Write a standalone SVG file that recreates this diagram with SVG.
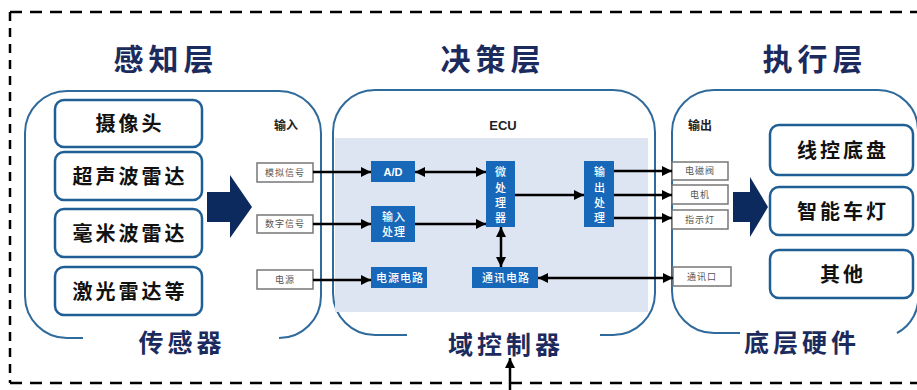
<svg xmlns="http://www.w3.org/2000/svg" width="917" height="390" viewBox="0 0 917 390">
  <style>
    .cjk { font-family: "Noto Sans CJK SC", "Noto Sans", sans-serif; }
    .title { font-size: 30px; font-weight: 700; fill: #1c2b5e; letter-spacing: 5px; text-anchor: middle; }
    .sub { font-size: 25px; font-weight: 600; fill: #1c2b5e; letter-spacing: 4px; text-anchor: middle; }
    .panel { fill: none; stroke: #2f6a9c; stroke-width: 2; }
    .card { fill: #fff; stroke: #1f5f95; stroke-width: 2.5; }
    .cardtxt { font-size: 20px; font-weight: 700; fill: #111; letter-spacing: 3px; text-anchor: middle; }
    .port { fill: #fff; stroke: #777; stroke-width: 1.5; }
    .porttxt { font-size: 9px; fill: #555; letter-spacing: 1px; text-anchor: middle; }
    .head { font-size: 12px; font-weight: 700; fill: #222; text-anchor: middle; }
    .blk { fill: #1768b9; }
    .blktxt { font-size: 11px; font-weight: 500; fill: #fff; letter-spacing: 1px; text-anchor: middle; }
    .wire { fill: none; stroke: #000; stroke-width: 2.5; }
    .frame { fill: none; stroke: #000; stroke-width: 2.5; }
    .big { fill: #0d2a5e; }
  </style>
  <defs>
    <marker id="ah" viewBox="0 0 10 10" refX="10" refY="5" markerWidth="10" markerHeight="10" markerUnits="userSpaceOnUse" orient="auto-start-reverse">
      <path d="M0,0 L10,5 L0,10 z" fill="#000"/>
    </marker>
  </defs>

  <!-- outer dashed frame -->
  <g id="frame">
    <line class="frame" x1="10" y1="12" x2="917" y2="12" stroke-dasharray="12 8"/>
    <line class="frame" x1="10" y1="383" x2="917" y2="383" stroke-dasharray="12 8"/>
    <line class="frame" x1="10" y1="12" x2="10" y2="383" stroke-dasharray="9 7"/>
  </g>

  <!-- layer titles -->
  <g id="titles" class="cjk">
    <text class="title" x="166" y="70">感知层</text>
    <text class="title" x="493" y="70">决策层</text>
    <text class="title" x="815" y="70">执行层</text>
  </g>

  <!-- sensor panel -->
  <g id="sensors">
    <path class="panel" d="M83 338 H67 A42 42 0 0 1 25 296 V133 A42 42 0 0 1 67 91 H279 A42 42 0 0 1 321 133 V296 A42 42 0 0 1 279 338"/>
    <text class="sub cjk" x="182" y="352">传感器</text>
    <g id="camera">
      <rect class="card" x="55" y="100" width="147" height="47" rx="9"/>
      <text class="cardtxt cjk" x="130" y="131">摄像头</text>
    </g>
    <g id="ultrasonic">
      <rect class="card" x="55" y="152" width="147" height="48" rx="9"/>
      <text class="cardtxt cjk" x="130" y="184">超声波雷达</text>
    </g>
    <g id="mmwave">
      <rect class="card" x="55" y="209" width="147" height="48" rx="9"/>
      <text class="cardtxt cjk" x="130" y="241">毫米波雷达</text>
    </g>
    <g id="lidar">
      <rect class="card" x="55" y="267" width="147" height="48" rx="9"/>
      <text class="cardtxt cjk" x="130" y="299">激光雷达等</text>
    </g>
    <path id="arrow-in" class="big" d="M207 192 H230 V175 L252 207 L230 238 V222 H207 z"/>
    <text class="head cjk" x="286" y="130">输入</text>
    <g id="analog">
      <rect class="port" x="257" y="163" width="56" height="19"/>
      <text class="porttxt cjk" x="285" y="176">模拟信号</text>
    </g>
    <g id="digital">
      <rect class="port" x="257" y="215" width="56" height="18"/>
      <text class="porttxt cjk" x="285" y="227">数字信号</text>
    </g>
    <g id="power">
      <rect class="port" x="257" y="270" width="56" height="19"/>
      <text class="porttxt cjk" x="285" y="283">电源</text>
    </g>
  </g>

  <!-- domain controller panel -->
  <g id="controller">
    <path class="panel" d="M407 335 H375 A42 42 0 0 1 333 293 V132 A42 42 0 0 1 375 90 H613 A42 42 0 0 1 655 132 V293 A42 42 0 0 1 613 335 H600"/>
    <rect x="335" y="138" width="313" height="174" fill="#dde4f2"/>
    <text x="503" y="130" font-family="Liberation Sans, Arial, sans-serif" font-size="13" font-weight="700" fill="#222" text-anchor="middle">ECU</text>
    <text class="sub cjk" x="506" y="354">域控制器</text>
    <g id="ad">
      <rect class="blk" x="371" y="161" width="44" height="21"/>
      <text x="393" y="176" font-family="Liberation Sans, Arial, sans-serif" font-size="11" font-weight="700" fill="#fff" text-anchor="middle">A/D</text>
    </g>
    <g id="inproc">
      <rect class="blk" x="371" y="206" width="44" height="36"/>
      <text class="blktxt cjk" x="394" y="221">输入</text>
      <text class="blktxt cjk" x="394" y="236">处理</text>
    </g>
    <g id="psu">
      <rect class="blk" x="371" y="267" width="56" height="21"/>
      <text class="blktxt cjk" x="400" y="282">电源电路</text>
    </g>
    <g id="mcu">
      <rect class="blk" x="486" y="161" width="29" height="66"/>
      <text class="blktxt cjk" x="501" y="176">微</text>
      <text class="blktxt cjk" x="501" y="192">处</text>
      <text class="blktxt cjk" x="501" y="207">理</text>
      <text class="blktxt cjk" x="501" y="222">器</text>
    </g>
    <g id="outproc">
      <rect class="blk" x="584" y="161" width="30" height="66"/>
      <text class="blktxt cjk" x="600" y="176">输</text>
      <text class="blktxt cjk" x="600" y="192">出</text>
      <text class="blktxt cjk" x="600" y="207">处</text>
      <text class="blktxt cjk" x="600" y="222">理</text>
    </g>
    <g id="comm">
      <rect class="blk" x="472" y="267" width="66" height="21"/>
      <text class="blktxt cjk" x="506" y="282">通讯电路</text>
    </g>
  </g>

  <!-- hardware panel -->
  <g id="hardware">
    <path class="panel" d="M740 333 H714 A42 42 0 0 1 672 291 V132 A42 42 0 0 1 714 90 H878 A40 40 0 0 1 918 130 V293 A40 40 0 0 1 897 333"/>
    <text class="sub cjk" x="802" y="352">底层硬件</text>
    <text class="head cjk" x="700" y="130">输出</text>
    <g id="valve">
      <rect class="port" x="672" y="162" width="56" height="18"/>
      <text class="porttxt cjk" x="700" y="174">电磁阀</text>
    </g>
    <g id="motor">
      <rect class="port" x="672" y="185" width="56" height="19"/>
      <text class="porttxt cjk" x="700" y="198">电机</text>
    </g>
    <g id="lamp">
      <rect class="port" x="672" y="210" width="56" height="19"/>
      <text class="porttxt cjk" x="700" y="223">指示灯</text>
    </g>
    <g id="port-comm">
      <rect class="port" x="673" y="267" width="58" height="19"/>
      <text class="porttxt cjk" x="702" y="280">通讯口</text>
    </g>
    <path id="arrow-out" class="big" d="M733 192 H750 V177 L768 207 L750 237 V222 H733 z"/>
    <g id="chassis">
      <rect class="card" x="770" y="125" width="143" height="50" rx="9"/>
      <text class="cardtxt cjk" x="843" y="158">线控底盘</text>
    </g>
    <g id="lights">
      <rect class="card" x="770" y="187" width="143" height="48" rx="9"/>
      <text class="cardtxt cjk" x="843" y="219">智能车灯</text>
    </g>
    <g id="other">
      <rect class="card" x="770" y="250" width="143" height="48" rx="9"/>
      <text class="cardtxt cjk" x="843" y="282">其他</text>
    </g>
  </g>

  <!-- signal connectors -->
  <g id="connectors">
    <line class="wire" x1="313" y1="172" x2="371" y2="172" marker-end="url(#ah)"/>
    <line class="wire" x1="313" y1="224" x2="371" y2="224" marker-end="url(#ah)"/>
    <line class="wire" x1="313" y1="280" x2="371" y2="280" marker-end="url(#ah)"/>
    <line class="wire" x1="415" y1="172" x2="486" y2="172" marker-start="url(#ah)" marker-end="url(#ah)"/>
    <line class="wire" x1="415" y1="224" x2="486" y2="224" marker-end="url(#ah)"/>
    <line class="wire" x1="515" y1="195" x2="584" y2="195" marker-end="url(#ah)"/>
    <line class="wire" x1="501" y1="227" x2="501" y2="267" marker-start="url(#ah)" marker-end="url(#ah)"/>
    <line class="wire" x1="614" y1="171" x2="672" y2="171" marker-end="url(#ah)"/>
    <line class="wire" x1="614" y1="195" x2="672" y2="195" marker-end="url(#ah)"/>
    <line class="wire" x1="614" y1="218" x2="672" y2="218" marker-end="url(#ah)"/>
    <line class="wire" x1="538" y1="278" x2="673" y2="278" marker-start="url(#ah)" marker-end="url(#ah)"/>
    <line class="wire" x1="510" y1="390" x2="510" y2="358" stroke-width="2" marker-end="url(#ah)"/>
  </g>
</svg>
